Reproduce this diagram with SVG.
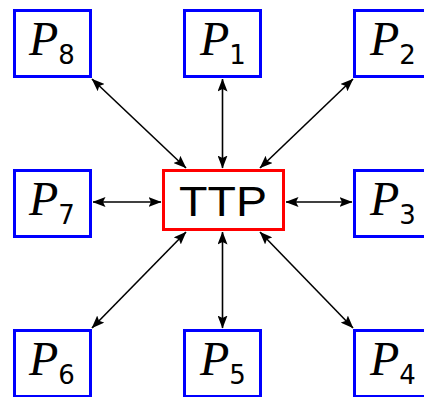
<svg xmlns="http://www.w3.org/2000/svg" width="424" height="397" viewBox="0 0 424 397">
<style>
.p{fill:#fff;stroke:#0000ff;stroke-width:3}
.t{fill:#fff;stroke:#ff0000;stroke-width:3}
.v{font-family:"Liberation Serif",serif;font-style:italic;font-size:48px;fill:#000}
.s{font-family:"DejaVu Sans","Liberation Sans",sans-serif;font-style:normal;font-size:26px}
.c line{stroke:#000;stroke-width:1.6;marker-start:url(#a);marker-end:url(#a)}
</style>
<defs>
<marker id="a" viewBox="0 0 13 10" refX="12.5" refY="5" markerWidth="13" markerHeight="10" markerUnits="userSpaceOnUse" orient="auto-start-reverse">
<path d="M0,0 L13,5 L0,10 L2.5,5 Z" fill="#000"/>
</marker>
</defs>
<g class="c" id="connectors">
<line x1="92" y1="79" x2="186" y2="168"/>
<line x1="222.5" y1="79" x2="222.5" y2="168"/>
<line x1="353" y1="79" x2="260" y2="168"/>
<line x1="93" y1="202" x2="161" y2="202"/>
<line x1="352" y1="202" x2="286" y2="202"/>
<line x1="92" y1="328" x2="186" y2="232"/>
<line x1="222.5" y1="328" x2="222.5" y2="232"/>
<line x1="353" y1="328" x2="260" y2="232"/>
</g>
<g id="TTP"><rect class="t" x="163.5" y="170.5" width="120" height="59"/><text x="179" y="216" font-family="Liberation Sans,sans-serif" font-size="43" textLength="88" lengthAdjust="spacingAndGlyphs">TTP</text></g>
<g id="P8"><rect class="p" x="14.5" y="10.5" width="76" height="66"/><text class="v" x="29" y="55">P<tspan class="s" dy="9">8</tspan></text></g>
<g id="P1"><rect class="p" x="184.5" y="10.5" width="76" height="66"/><text class="v" x="200" y="55">P<tspan class="s" dy="9">1</tspan></text></g>
<g id="P2"><rect class="p" x="354.5" y="10.5" width="76" height="66"/><text class="v" x="370" y="55">P<tspan class="s" dy="9">2</tspan></text></g>
<g id="P7"><rect class="p" x="14.5" y="170.5" width="76" height="66"/><text class="v" x="29" y="215">P<tspan class="s" dy="9">7</tspan></text></g>
<g id="P3"><rect class="p" x="354.5" y="170.5" width="76" height="66"/><text class="v" x="370" y="215">P<tspan class="s" dy="9">3</tspan></text></g>
<g id="P6"><rect class="p" x="14.5" y="330.5" width="76" height="66"/><text class="v" x="29" y="375">P<tspan class="s" dy="9">6</tspan></text></g>
<g id="P5"><rect class="p" x="184.5" y="330.5" width="76" height="66"/><text class="v" x="200" y="375">P<tspan class="s" dy="9">5</tspan></text></g>
<g id="P4"><rect class="p" x="354.5" y="330.5" width="76" height="66"/><text class="v" x="370" y="375">P<tspan class="s" dy="9">4</tspan></text></g>
</svg>
